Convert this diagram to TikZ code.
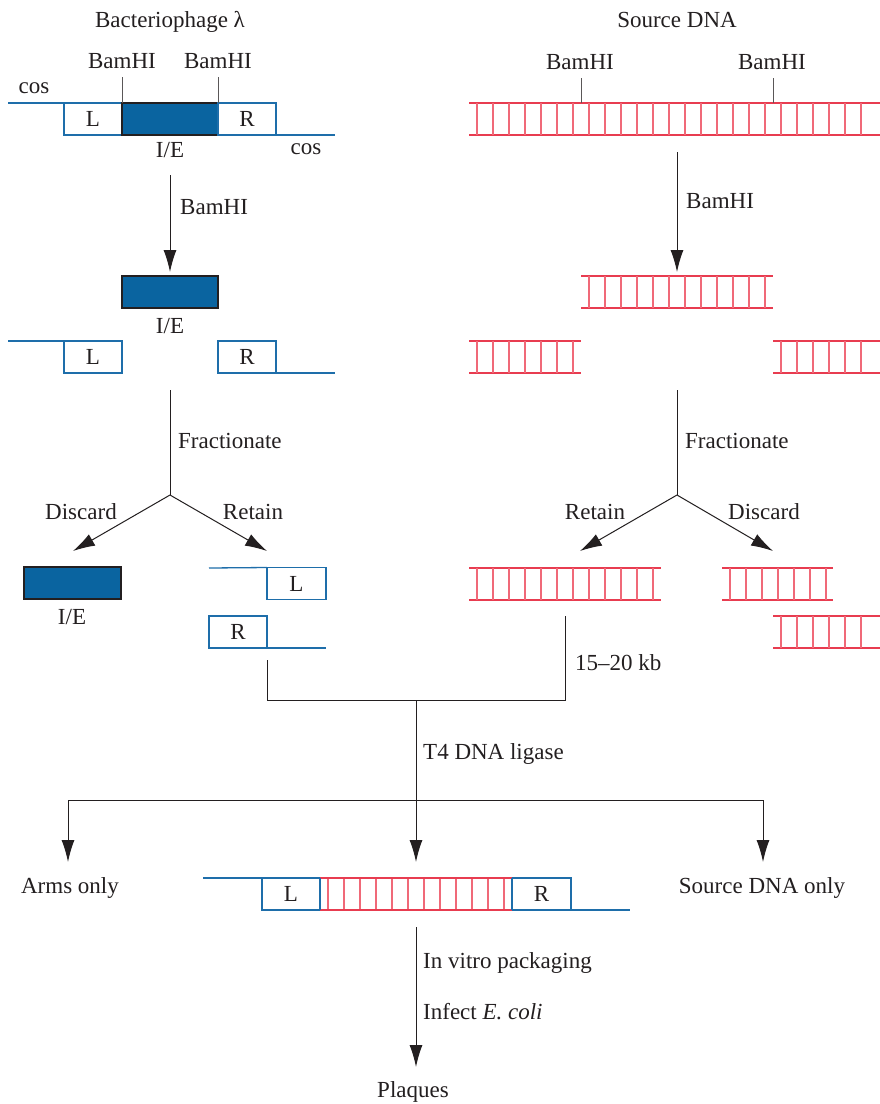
\documentclass[tikz,border=0pt]{standalone}
\usepackage{fontspec}
\setmainfont{Liberation Serif}
\usetikzlibrary{arrows.meta}
\definecolor{dnablue}{RGB}{10,100,160}
\definecolor{lineblue}{RGB}{30,110,170}
\definecolor{dnared}{RGB}{232,60,80}
\definecolor{rungred}{RGB}{240,105,120}
\definecolor{ink}{RGB}{35,31,32}
\newcommand\dnaladder[3]{%
  \draw[rail] (#1,#3) -- (#2,#3) (#1,#3+32) -- (#2,#3+32);
  \pgfmathsetmacro\lstart{#1+8}%
  \pgfmathsetmacro\lnext{#1+24}%
  \pgfmathsetmacro\lend{#2-7}%
  \foreach \xx in {\lstart,\lnext,...,\lend}{\draw[rung] (\xx,#3) -- (\xx,#3+32);}%
}
\begin{document}
\begin{tikzpicture}[x=1pt,y=-1pt,
  lbl/.style={font=\fontsize{23}{26}\selectfont, text=ink, inner sep=0pt, anchor=base},
  lblw/.style={lbl, anchor=base west},
  armbox/.style={draw=lineblue, line width=1.3pt, minimum width=58pt, minimum height=32pt, inner sep=0pt, outer sep=0pt, font=\fontsize{23}{26}\selectfont, text=ink},
  arm/.style={draw=lineblue, line width=1.3pt},
  ie/.style={draw=ink, fill=dnablue, line width=1.2pt, minimum width=96pt, minimum height=32pt, inner sep=0pt, outer sep=0pt},
  arr/.style={draw=ink, line width=1pt, -{Latex[length=22pt,width=13pt]}},
  conn/.style={draw=ink, line width=1pt},
  tick/.style={draw=ink!75, line width=0.9pt},
  rail/.style={draw=dnared, line width=2pt},
  rung/.style={draw=rungred, line width=1.3pt}]
\useasboundingbox[fill=white] (0,0) rectangle (880,1104);

% ---------- left column: bacteriophage lambda ----------
\node[lbl] (title1) at (170,27) {Bacteriophage λ};
\node[lbl] (bamA) at (122,68) {BamHI};
\node[lbl] (bamB) at (218,68) {BamHI};
\node[lbl] (cosL) at (34,93) {cos};
\node[lbl] (cosR) at (306,154) {cos};
\node[armbox] (L1) at (93,119) {L};
\node[ie] (IE1) at (170,119) {};
\node[armbox] (R1) at (247,119) {R};
\draw[arm] (8,103) -- (L1.north west);
\draw[arm] (R1.south east) -- (335,135);
\draw[tick] (IE1.north west) ++(0,-26) -- (IE1.north west);
\draw[tick] (IE1.north east) ++(0,-26) -- (IE1.north east);
\node[lbl] (ielab1) at (170,157) {I/E};

\coordinate (a1s) at (170,175);
\coordinate (a1e) at (170,272);
\draw[arr] (a1s) -- (a1e);
\node[lblw] (bamArr1) at (180,214) {BamHI};

\node[ie] (IE2) at (170,292) {};
\node[lbl] (ielab2) at (170,333) {I/E};
\node[armbox] (L2) at (93,357) {L};
\node[armbox] (R2) at (247,357) {R};
\draw[arm] (8,341) -- (L2.north west);
\draw[arm] (R2.south east) -- (335,373);

\coordinate (f1s) at (170,390);
\coordinate (f1) at (170,495);
\coordinate (f1l) at (73,551);
\coordinate (f1r) at (267,551);
\draw[conn] (f1s) -- (f1);
\node[lblw] (frac1) at (178,448) {Fractionate};
\draw[arr] (f1) -- (f1l);
\draw[arr] (f1) -- (f1r);
\node[lbl] (disc1) at (81,519) {Discard};
\node[lbl] (ret1) at (253,519) {Retain};

\node[ie, minimum width=97pt] (IE3) at (72.5,583) {};
\node[lbl] (ielab3) at (72,624) {I/E};
\node[armbox, minimum width=59pt] (L3) at (296.5,583.5) {L};
\draw[arm] (209,568) -- (L3.north west);
\node[armbox] (R3) at (238,632) {R};
\draw[arm] (R3.south east) -- (326,648);

% ---------- right column: source DNA ----------
\node[lbl] (title2) at (677,27) {Source DNA};
\node[lbl] (bamC) at (580,69) {BamHI};
\node[lbl] (bamD) at (772,69) {BamHI};
\dnaladder{469}{880}{103}
\coordinate (cut1) at (581,103);
\coordinate (cut2) at (773,103);
\draw[tick] (cut1) ++(0,-25) -- (cut1);
\draw[tick] (cut2) ++(0,-25) -- (cut2);

\coordinate (a2s) at (677,152);
\coordinate (a2e) at (677,272);
\draw[arr] (a2s) -- (a2e);
\node[lblw] (bamArr2) at (686,208) {BamHI};

\dnaladder{581}{773}{276}
\dnaladder{469}{581}{341}
\dnaladder{773}{880}{341}

\coordinate (f2s) at (677,390);
\coordinate (f2) at (677,495);
\coordinate (f2l) at (580,551);
\coordinate (f2r) at (773,551);
\draw[conn] (f2s) -- (f2);
\node[lblw] (frac2) at (685,448) {Fractionate};
\draw[arr] (f2) -- (f2l);
\draw[arr] (f2) -- (f2r);
\node[lbl] (ret2) at (595,519) {Retain};
\node[lbl] (disc2) at (764,519) {Discard};

\dnaladder{469}{661}{568}
\dnaladder{722}{833}{568}
\dnaladder{773}{880}{616}

% ---------- ligation ----------
\coordinate (m1) at (267,660);
\coordinate (m1b) at (267,700);
\coordinate (m2) at (565,616);
\coordinate (m2b) at (565,700);
\coordinate (mj) at (416,700);
\draw[conn] (m1) -- (m1b) -- (m2b) -- (m2);
\node[lblw] (kb) at (575,670) {15–20 kb};
\coordinate (mc) at (416,862);
\draw[arr] (mj) -- (mc);
\node[lblw] (lig) at (423,759) {T4 DNA ligase};
\coordinate (hl) at (68,800);
\coordinate (hr) at (763,800);
\coordinate (hlt) at (68,862);
\coordinate (hrt) at (763,862);
\draw[conn] (hl) -- (hr);
\draw[arr] (hl) -- (hlt);
\draw[arr] (hr) -- (hrt);
\node[lbl] (armsonly) at (70,893) {Arms only};
\node[lbl] (srconly) at (762,893) {Source DNA only};

% recombinant
\dnaladder{320}{512}{878}
\node[armbox] (L4) at (291,894) {L};
\node[armbox, minimum width=59pt] (R4) at (541.5,894) {R};
\draw[rail] (L4.north east) -- (R4.north west);
\draw[rail] (L4.south east) -- (R4.south west);
\draw[arm] (L4.north east) -- (L4.south east);
\draw[arm] (R4.north west) -- (R4.south west);
\draw[arm] (203,878) -- (L4.north west);
\draw[arm] (R4.south east) -- (630,910);

\coordinate (p1) at (416,927);
\coordinate (p2) at (416,1067);
\draw[arr] (p1) -- (p2);
\node[lblw] (pack) at (423,968) {In vitro packaging};
\node[lblw] (inf) at (423,1019) {Infect \textit{E. coli}};
\node[lbl] (plaq) at (413,1097) {Plaques};
\end{tikzpicture}
\end{document}
